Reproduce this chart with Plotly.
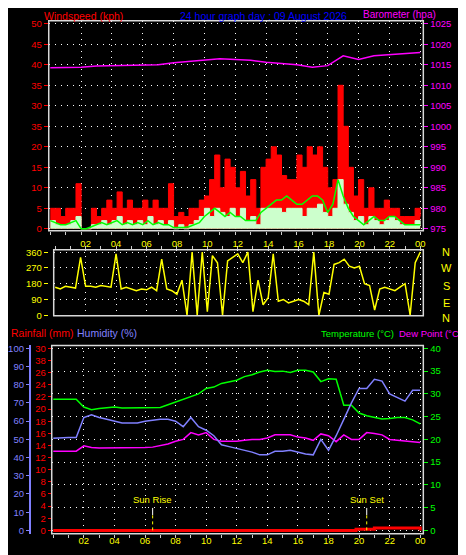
import plotly.graph_objects as go

# ---------------- data ----------------
wind_hours = [i / 3 for i in range(73)]
gust = [5,5,3,5,5,11, 0,0,5,3,5,7, 5,9,5,7,5,5, 7,5,7,5,5,11, 3,4,3,5,5,7,
        8,12,18,10,17,15, 10,14,8,12,5,15, 17,20,18,13,12,12, 18,15,20,18,20,15,
        10,12,35,25,15,8, 12,5,10,5,5,7, 5,5,3,3,3,5, 3]
wspeed = [2,1,1,1,2,3, 0,0,1,1,2,1, 2,3,1,2,1,2, 1,3,1,2,1,2, 0,1,0,1,2,3,
          5,3,5,4,3,5, 3,5,2,3,1,5, 5,5,5,4,5,5, 5,3,5,5,6,4,
          3,5,12,6,4,2, 3,1,3,2,1,2, 3,2,1,1,1,2, 1]
wavg = [2,1.5,1,1,1.5,2, 0,0,0.5,1,1.5,1, 1.5,2,1,1.5,1,1.5, 1,2,1,1.5,1,1,
        0.3,0.3,0.3,0.5,1,1.5, 3,4,5,4,3,4, 3,3,2,2,2,4, 5,6,7,7,8,7,
        6,6,7,8,8,7, 4,6,12,8,5,3, 2,1,2,3,2,2, 3,3,2,1,1,1, 1]
wdir = [160,150,165,160,155,330, 165,165,160,170,165,160, 350,150,160,150,140,150,
        145,160,140,320,150,140, 120,200,0,360,0,360, 20,340,300,0,310,330,
        350,300,360,20,200,60, 100,350,80,90,70,80, 90,80,60,360,0,130,
        120,290,300,320,280,270, 280,180,170,30,150,160, 150,140,160,180,0,300, 360]
baro_hours = list(range(25))
baro = [1014.3,1014.4,1014.4,1014.7,1014.8,1014.8,1014.9,1015.0,1015.5,1015.8,1016.2,
        1016.5,1016.3,1016.1,1015.6,1015.3,1015.0,1014.4,1014.8,1017.2,1016.3,1017.2,
        1017.5,1017.8,1018.0]
th = [i / 2 for i in range(49)]
temp = [28.8,28.8,28.8,28.8,27.1,26.5,26.8,27.0,27.1,26.9,26.9,26.9,26.9,26.9,27.0,27.6,
        28.2,28.9,29.4,30.0,31.2,31.5,32.3,32.6,33.0,33.8,34.2,34.8,35.2,34.9,35.0,34.7,
        35.2,35.2,34.8,32.7,33.3,33.2,27.5,27.5,25.8,25.2,24.8,24.5,24.6,24.8,24.8,24.3,23.4]
hum = [50.6,51,51,51,62,63.5,62,61,60,59,59,59,60,60.5,61,61,60,57,62,57,55,52,47,46,45,
       44,43,41.5,41.5,43.5,43.5,44,43,42,41.5,50,44,52,61,70,78,78,83,82,75,73,71,77,77]
dew = [17.4,17.4,17.4,17.4,18.6,18.2,18.1,18.1,18.1,18.1,18.2,18.2,18.2,18.3,18.6,19.0,
       19.6,20.0,21.5,21.0,21.5,20.0,19.6,19.6,19.6,19.8,20.0,20.0,20.3,21.0,21.0,21.0,
       20.5,20.3,19.8,21.2,20.8,19.5,21.0,20.0,20.0,21.5,21.3,21.0,20.0,19.8,19.6,19.4,19.3]
rain_hours = [0, 19.8, 21.0, 23.95, 24.0]
rain = [0, 0.2, 0.4, 0.4, 0]
hour_vals = list(range(2, 25, 2))
hour_text = ["02","04","06","08","10","12","14","16","18","20","22","00"]
wind_ticks = [0,5,10,15,20,25,30,35,40,45,50]
wind_text = ["0","5","10","15","20","35","30","35","40","45","50"]
rain_ticks = list(range(0, 31, 2))
rain_text = ["0","2","4","6","8","10","12","14","16","18","20","22","24","26","38","30"]
sun_events = [("Sun Rise", 6.5), ("Sun Set", 20.5)]
title = "24 hour graph day : 09 August 2026"

W, H = 466, 555
def px(x): return x / W
def py(y): return 1 - y / H

RED, MAG, GRN, YEL, BLU = "#ff0000", "#ff00ff", "#00ff00", "#ffff00", "#8080ff"
F = "Liberation Sans"
XR = [-0.1, 24.2]

fig = go.Figure()
fig.add_trace(go.Scatter(x=wind_hours, y=gust, xaxis="x", yaxis="y", mode="lines",
                         line=dict(color=RED, width=1, shape="hv"), fill="tozeroy", fillcolor=RED))
fig.add_trace(go.Scatter(x=wind_hours, y=wspeed, xaxis="x", yaxis="y", mode="lines",
                         line=dict(color="#ccffcc", width=1, shape="hv"), fill="tozeroy", fillcolor="#ccffcc"))
fig.add_trace(go.Scatter(x=wind_hours, y=wavg, xaxis="x", yaxis="y", mode="lines",
                         line=dict(color=GRN, width=1.5)))
fig.add_trace(go.Scatter(x=baro_hours, y=baro, xaxis="x", yaxis="y2", mode="lines",
                         line=dict(color=MAG, width=1.5)))
fig.add_trace(go.Scatter(x=wind_hours, y=wdir, xaxis="x2", yaxis="y3", mode="lines",
                         line=dict(color=YEL, width=1.5)))
fig.add_trace(go.Scatter(x=th, y=temp, xaxis="x3", yaxis="y4", mode="lines",
                         line=dict(color=GRN, width=1.5)))
fig.add_trace(go.Scatter(x=th, y=dew, xaxis="x3", yaxis="y4", mode="lines",
                         line=dict(color=MAG, width=1.5)))
fig.add_trace(go.Scatter(x=th, y=hum, xaxis="x3", yaxis="y6", mode="lines",
                         line=dict(color=BLU, width=1.5)))
fig.add_trace(go.Scatter(x=rain_hours, y=rain, xaxis="x3", yaxis="y5", mode="lines",
                         line=dict(color=RED, width=3, shape="hv")))

grid = dict(showgrid=True, gridcolor="#ffffff", griddash="1px,5px", gridwidth=1, zeroline=False)
tf = dict(family=F, size=9.5)

def xax(dom, y0, labels, side="bottom"):
    return dict(domain=dom, range=XR, anchor=y0, tickvals=hour_vals,
                ticktext=hour_text if labels else [""] * 12, side=side,
                tickfont=dict(tf, color=YEL), ticks="", **grid,
                minor=dict(dtick=1, ticks="outside", ticklen=3, tickcolor="#cccccc", showgrid=False))

fig.update_layout(
    width=W, height=H, margin=dict(l=0, r=0, t=0, b=0), showlegend=False,
    paper_bgcolor="black", plot_bgcolor="black",
    xaxis=xax([px(40), px(417)], "y", False),
    yaxis=dict(domain=[py(223), py(10)], range=[-0.48, 50.72], tickvals=wind_ticks,
               ticktext=wind_text, tickfont=dict(tf, color=RED), ticks="outside",
               ticklen=4, tickcolor=RED, **grid),
    yaxis2=dict(overlaying="y", side="right", anchor="x", range=[974.52, 1025.72],
                tickvals=list(range(975, 1026, 5)), tickfont=dict(tf, color=MAG),
                ticks="outside", ticklen=4, tickcolor=MAG, showgrid=False, zeroline=False),
    xaxis2=xax([px(45), px(417)], "y3", True, side="top"),
    yaxis3=dict(domain=[py(309.3), py(242.3)], range=[-3.4, 373.5], tickvals=[0, 90, 180, 270, 360],
                tickfont=dict(tf, color=YEL), ticks="outside", ticklen=4, tickcolor=YEL, **grid),
    xaxis3=xax([px(43), px(417)], "y4", True),
    yaxis4=dict(domain=[py(530.3), py(339.3)], side="right", anchor="x3", range=[-0.71, 40.65],
                tickvals=list(range(0, 41, 5)), tickfont=dict(tf, color=GRN), ticks="outside",
                ticklen=4, tickcolor=GRN, **grid),
    yaxis5=dict(overlaying="y4", side="left", anchor="x3", range=[-0.54, 30.49],
                tickvals=rain_ticks, ticktext=rain_text, tickfont=dict(tf, color=RED),
                ticks="outside", ticklen=3, tickcolor=RED, showgrid=False, zeroline=False),
    yaxis6=dict(overlaying="y4", side="left", anchor="free", position=px(21), range=[-1.79, 101.6],
                tickvals=list(range(0, 101, 10)), tickfont=dict(tf, color=BLU), ticks="outside",
                ticklen=3, tickcolor=BLU, showline=True, linecolor=BLU, linewidth=2,
                showgrid=False, zeroline=False),
)

shapes = []
for (x0, y0, x1, y1) in [(40, 10, 417, 223), (45, 242.3, 417, 309.3), (43, 339.3, 417, 530.3)]:
    shapes.append(dict(type="rect", xref="paper", yref="paper", x0=px(x0), x1=px(x1),
                       y0=py(y1), y1=py(y0), line=dict(color="#d8d8d8", width=1.5), layer="above"))
annotations = []
for name, hh in sun_events:
    shapes.append(dict(type="line", xref="x3", yref="y5", x0=hh, x1=hh, y0=2.5, y1=3.7,
                       line=dict(color="white", width=1)))
    shapes.append(dict(type="line", xref="x3", yref="y5", x0=hh, x1=hh, y0=0, y1=2.5,
                       line=dict(color=YEL, width=1, dash="dot")))
    annotations.append(dict(x=hh, y=3.9, xref="x3", yref="y5", text=name, showarrow=False,
                            yanchor="bottom", font=dict(family=F, size=9.5, color=YEL)))

def txt(x, y, s, c, anchor="left", size=10.5):
    annotations.append(dict(x=px(x), y=py(y), xref="paper", yref="paper", text=s, showarrow=False,
                            xanchor=anchor, yanchor="middle", font=dict(family=F, size=size, color=c)))

txt(33, 5, "Windspeed (kph)", RED)
txt(256, 5, title, "#0000ff", "center")
txt(432, 4, "Barometer (hpa)", MAG, "right", 10)
txt(0, 327, "Rainfall (mm)", RED)
txt(66, 327, "Humidity (%)", BLU)
txt(390, 327, "Temperature (°C)", GRN, "right", 9.5)
txt(458, 327, "Dew Point (°C)", MAG, "right", 9.5)
for lab, yy in zip(["N", "W", "S", "E", "N"], [245, 261, 279, 296, 311]):
    txt(440, yy, lab, YEL, "center", 11)

fig.update_layout(shapes=shapes, annotations=annotations)
fig.write_html("out.html", config={"displayModeBar": False})
